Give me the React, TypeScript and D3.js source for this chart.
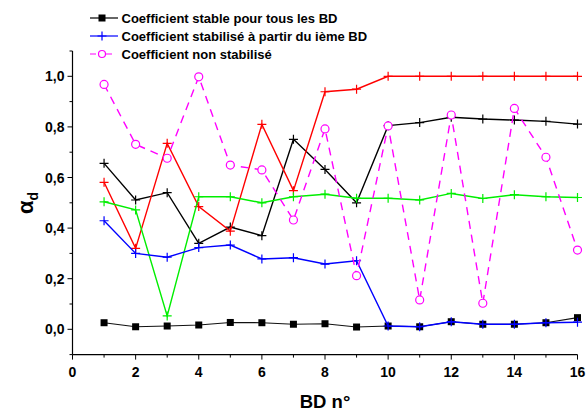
import React from "react";
import * as d3 from "d3";

const bd = [1, 2, 3, 4, 5, 6, 7, 8, 9, 10, 11, 12, 13, 14, 15, 16];
const stable = [0.026, 0.01, 0.013, 0.017, 0.027, 0.026, 0.02, 0.022, 0.009, 0.013, 0.01, 0.03, 0.02, 0.02, 0.026, 0.046];
const blueSeries = [0.429, 0.3, 0.285, 0.323, 0.333, 0.278, 0.283, 0.258, 0.271, 0.013, 0.01, 0.03, 0.02, 0.02, 0.026, 0.028];
const blackSeries = [0.656, 0.511, 0.54, 0.34, 0.404, 0.37, 0.751, 0.632, 0.5, 0.805, 0.817, 0.838, 0.831, 0.827, 0.822, 0.811];
const redSeries = [0.581, 0.32, 0.735, 0.485, 0.388, 0.81, 0.548, 0.939, 0.949, 1.0, 1.0, 1.0, 1.0, 1.0, 1.0, 1.0];
const greenSeries = [0.504, 0.472, 0.053, 0.524, 0.524, 0.5, 0.524, 0.534, 0.518, 0.518, 0.511, 0.537, 0.517, 0.532, 0.524, 0.521];
const magentaSeries = [0.968, 0.731, 0.676, 0.998, 0.649, 0.63, 0.432, 0.792, 0.212, 0.804, 0.116, 0.847, 0.103, 0.873, 0.68, 0.313];

const xTicks = [0, 2, 4, 6, 8, 10, 12, 14, 16];
const yTicks = [0, 0.2, 0.4, 0.6, 0.8, 1.0];
const legendLabels = [
  "Coefficient stable pour tous les BD",
  "Coefficient stabilisé à partir du ième BD",
  "Coefficient non stabilisé",
];

const FONT = "'Liberation Sans', Arial, sans-serif";

export default function App() {
  const x = d3.scaleLinear().domain([0, 16]).range([72.5, 577.5]);
  const y = d3.scaleLinear().domain([-0.1, 1.1]).range([354.6, 51]);
  const line = (vals: number[]) =>
    d3.line<number>().x((_, i) => x(bd[i])).y((v) => y(v))(vals) || "";

  const plus = (cx: number, cy: number, color: string, key: string, s = 4.5) => (
    <path key={key} d={`M${cx - s},${cy}H${cx + s}M${cx},${cy - s}V${cy + s}`} stroke={color} strokeWidth={1.2} fill="none" />
  );

  const xMinor = d3.range(0, 16.01, 1);
  const yMinor = d3.range(-0.1, 1.11, 0.1);

  const plusSeries = [
    { vals: blackSeries, color: "#000" },
    { vals: redSeries, color: "#ff0000" },
    { vals: greenSeries, color: "#00ee00" },
  ];

  return (
    <svg width={588} height={412} style={{ position: "absolute", left: 0, top: 0, background: "#fff" }}>
      <rect width={588} height={412} fill="#fff" />
      {/* axes */}
      <line x1={x(0)} x2={x(0)} y1={y(1.1)} y2={y(-0.1)} stroke="#000" strokeWidth={1.2} />
      <line x1={x(0)} x2={x(16)} y1={y(-0.1)} y2={y(-0.1)} stroke="#000" strokeWidth={1.2} />
      {xMinor.map((t) => (
        <line key={"xm" + t} x1={x(t)} x2={x(t)} y1={y(-0.1)} y2={y(-0.1) + (t % 2 === 0 ? 5 : 3)} stroke="#000" strokeWidth={1} />
      ))}
      {yMinor.map((t, i) => (
        <line key={"ym" + i} x1={x(0)} x2={x(0) - (i % 2 === 1 ? 5 : 3)} y1={y(t)} y2={y(t)} stroke="#000" strokeWidth={1} />
      ))}
      {xTicks.map((t) => (
        <text key={"xt" + t} x={x(t)} y={376.7} textAnchor="middle" fontFamily={FONT} fontWeight="bold" fontSize={14}>
          {t}
        </text>
      ))}
      {yTicks.map((t) => (
        <text key={"yt" + t} x={x(0) - 8} y={y(t) + 5} textAnchor="end" fontFamily={FONT} fontWeight="bold" fontSize={14}>
          {t.toFixed(1).replace(".", ",")}
        </text>
      ))}
      <text x={(x(0) + x(16)) / 2} y={407.5} textAnchor="middle" fontFamily={FONT} fontWeight="bold" fontSize={18.5}>
        BD n°
      </text>
      <text transform={`translate(33,203) rotate(-90)`} textAnchor="middle" fontFamily={FONT} fontWeight="bold" fontSize={22}>
        α<tspan fontSize={14} dy={5}>d</tspan>
      </text>

      {/* stable series (black squares) */}
      <path d={line(stable)} fill="none" stroke="#111" strokeWidth={1.1} />
      {stable.map((v, i) => (
        <rect key={"sq" + i} x={x(bd[i]) - 3.5} y={y(v) - 3.5} width={7} height={7} fill="#000" />
      ))}

      {plusSeries.map((s, si) => (
        <g key={"ps" + si}>
          <path d={line(s.vals)} fill="none" stroke={s.color} strokeWidth={1.4} />
          {s.vals.map((v, i) => plus(x(bd[i]), y(v), s.color, "p" + si + "-" + i))}
        </g>
      ))}

      {/* blue */}
      <path d={line(blueSeries)} fill="none" stroke="#0000ff" strokeWidth={1.4} />
      {blueSeries.map((v, i) => plus(x(bd[i]), y(v), "#0000ff", "b" + i))}

      {/* magenta */}
      <path d={line(magentaSeries)} fill="none" stroke="#ff00ff" strokeWidth={1.4} strokeDasharray="8,6" />
      {magentaSeries.map((v, i) => (
        <circle key={"c" + i} cx={x(bd[i])} cy={y(v)} r={4} fill="#fff" stroke="#ff00ff" strokeWidth={1.2} />
      ))}

      {/* legend */}
      <g>
        <line x1={90} x2={118} y1={18} y2={18} stroke="#000" strokeWidth={1.2} />
        <rect x={98.5} y={14.5} width={7} height={7} fill="#000" />
        <line x1={90} x2={118} y1={36} y2={36} stroke="#0000ff" strokeWidth={1.2} />
        {plus(102, 36, "#0000ff", "lp")}
        <line x1={90} x2={118} y1={54} y2={54} stroke="#ff00ff" strokeWidth={1.2} strokeDasharray="6,10" />
        <circle cx={102} cy={54} r={3.5} fill="#fff" stroke="#ff00ff" strokeWidth={1.2} />
        {legendLabels.map((l, i) => (
          <text key={"lg" + i} x={121.5} y={22.5 + i * 18} fontFamily={FONT} fontWeight="bold" fontSize={13}>
            {l}
          </text>
        ))}
      </g>
    </svg>
  );
}
